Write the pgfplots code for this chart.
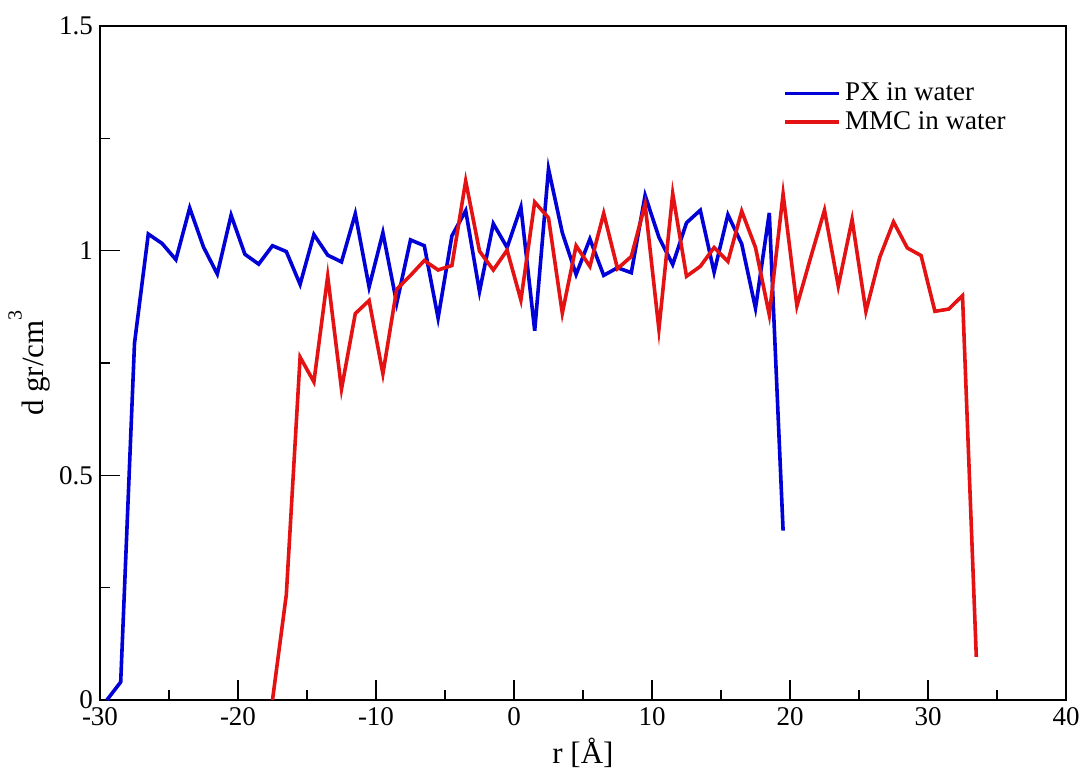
\documentclass[border=0pt]{standalone}
\usepackage{pgfplots}
\pgfplotsset{compat=1.18}
\usepackage{fontspec}
\setmainfont{Liberation Serif}
\definecolor{pxblue}{RGB}{0,0,215}
\definecolor{mmcred}{RGB}{228,18,18}
\pgfplotstableread{
x y
-29.5 0.0
-28.5 0.04
-27.5 0.794
-26.5 1.037
-25.5 1.016
-24.5 0.980
-23.5 1.095
-22.5 1.008
-21.5 0.948
-20.5 1.079
-19.5 0.992
-18.5 0.970
-17.5 1.011
-16.5 0.998
-15.5 0.925
-14.5 1.036
-13.5 0.990
-12.5 0.975
-11.5 1.082
-10.5 0.919
-9.5 1.040
-8.5 0.883
-7.5 1.024
-6.5 1.011
-5.5 0.850
-4.5 1.033
-3.5 1.089
-2.5 0.909
-1.5 1.060
-0.5 1.007
0.5 1.097
1.5 0.822
2.5 1.182
3.5 1.040
4.5 0.947
5.5 1.026
6.5 0.945
7.5 0.962
8.5 0.951
9.5 1.123
10.5 1.030
11.5 0.969
12.5 1.062
13.5 1.090
14.5 0.952
15.5 1.080
16.5 1.015
17.5 0.872
18.5 1.084
19.5 0.377
}\pxdata
\pgfplotstableread{
x y
-17.5 0.0
-16.5 0.234
-15.5 0.763
-14.5 0.708
-13.5 0.943
-12.5 0.692
-11.5 0.860
-10.5 0.889
-9.5 0.726
-8.5 0.914
-7.5 0.945
-6.5 0.978
-5.5 0.957
-4.5 0.967
-3.5 1.155
-2.5 0.999
-1.5 0.957
-0.5 1.001
0.5 0.890
1.5 1.108
2.5 1.073
3.5 0.861
4.5 1.011
5.5 0.965
6.5 1.083
7.5 0.960
8.5 0.987
9.5 1.103
10.5 0.825
11.5 1.127
12.5 0.943
13.5 0.965
14.5 1.007
15.5 0.976
16.5 1.088
17.5 1.007
18.5 0.857
19.5 1.126
20.5 0.877
21.5 0.985
22.5 1.090
23.5 0.921
24.5 1.069
25.5 0.865
26.5 0.985
27.5 1.064
28.5 1.006
29.5 0.989
30.5 0.865
31.5 0.870
32.5 0.900
33.5 0.096
}\mmcdata
\begin{document}
\begin{tikzpicture}
\begin{axis}[
  name=ax,
  scale only axis,
  width=483pt, height=337pt,
  xmin=-30, xmax=40, ymin=0, ymax=1.5,
  xtick={-30,-20,...,40},
  ytick={0,0.5,1,1.5},
  minor xtick={-25,-15,...,35},
  minor ytick={0.25,0.75,1.25},
  xtick pos=bottom, ytick pos=left,
  tick align=inside,
  major tick length=10pt, minor tick length=5pt,
  every tick/.style={black, line width=0.7pt},
  axis line style={line width=1pt},
  /pgf/number format/assume math mode=true,
  tick label style={font=\fontsize{13.5}{15}\selectfont},
  yticklabel style={/pgf/number format/fixed},
  xlabel={r [Å]},
  ylabel={d gr/cm\raisebox{0.72em}{\fontsize{10}{10}\selectfont 3}},
  label style={font=\fontsize{15.5}{17}\selectfont},
  xlabel style={at={(axis description cs:0.5,-0.094)}, anchor=base},
  ylabel style={at={(axis description cs:-0.058,0.5)}, anchor=base},
  legend style={draw=none, fill=none, at={(0.701,0.928)}, anchor=north west,
    font=\fontsize{13.5}{15}\selectfont, row sep=0pt},
  legend cell align=left,
  legend image code/.code={\draw[#1, line width=1.8pt] (0pt,0pt) -- (20.5pt,0pt); \path (0pt,0pt) -- (27pt,0pt);},
]
\addplot[pxblue, line width=1.8pt] table[x=x,y=y] {\pxdata};
\addlegendentry{PX in water}
\addplot[mmcred, line width=1.8pt] table[x=x,y=y] {\mmcdata};
\addlegendentry{MMC in water}
\end{axis}
\pgfresetboundingbox
\path ([xshift=-50pt,yshift=-35.5pt]ax.south west) rectangle ([xshift=8.5pt,yshift=13pt]ax.north east);
\end{tikzpicture}
\end{document}
